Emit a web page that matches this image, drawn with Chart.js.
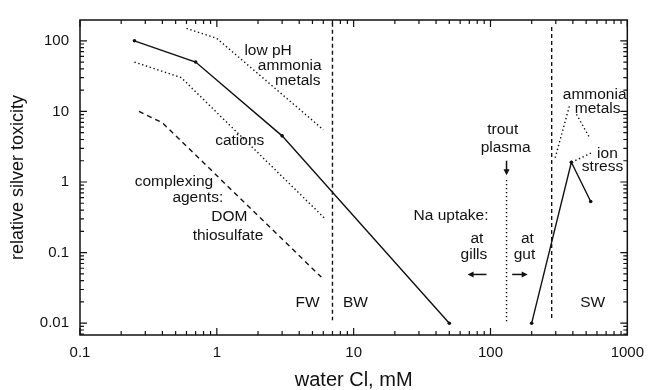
<!DOCTYPE html>
<html><head><meta charset="utf-8">
<script src="https://cdn.jsdelivr.net/npm/chart.js@4/dist/chart.umd.min.js"></script>
<style>html,body{margin:0;padding:0;background:#fff}#wrap{width:653px;height:390px}</style>
</head><body><div id="wrap"><canvas id="c" width="653" height="390"></canvas></div>
<script>
const FONT = '"Liberation Sans", Arial, Helvetica, sans-serif';
const xTitle = 'water Cl, mM';
const yTitle = 'relative silver toxicity';
const xTickValues = [0.1, 1, 10, 100, 1000];
const xTickLabels = ['0.1', '1', '10', '100', '1000'];
const yTickValues = [0.01, 0.1, 1, 10, 100];
const yTickLabels = ['0.01', '0.1', '1', '10', '100'];

// solid toxicity curves
const fwX = [0.25, 0.7, 3, 50];
const fwY = [100, 50, 4.5, 0.01];
const swX = [200, 390, 540];
const swY = [0.01, 1.9, 0.53];
// modifier curves
const lowPhX = [0.6, 1.0, 6];
const lowPhY = [150, 108, 5.5];
const cationsX = [0.25, 0.55, 6.1];
const cationsY = [50, 30, 0.31];
const complexX = [0.27, 0.4, 5.8];
const complexY = [10, 6.9, 0.045];
// boundaries
const fwBwX = [7, 7];
const fwBwY = [180, 0.011];
const plasmaX = [131, 131];
const plasmaY = [1.07, 0.01];
const swBoundX = [280, 280];
const swBoundY = [157, 0.011];
// sea water modifier connectors
const swAmmoniaX = [297, 380];
const swAmmoniaY = [2.2, 12.5];
const swMetalsX = [425, 531];
const swMetalsY = [9.1, 4.2];
const ionX = [392, 550];
const ionY = [1.9, 2.6];

// annotation texts (centres in data coordinates)
const labelTexts = ['low pH', 'ammonia', 'metals', 'cations', 'complexing', 'agents:', 'DOM', 'thiosulfate',
  'FW', 'BW', 'SW', 'Na uptake:', 'at', 'gills', 'at', 'gut', 'trout', 'plasma', 'ammonia', 'metals', 'ion', 'stress'];
const labelX = [2.37, 3.41, 3.90, 1.47, 0.486, 0.726, 1.236, 1.206,
  4.61, 10.3, 558, 51.5, 79.6, 75.7, 186, 177, 123, 129, 577, 607, 716, 659];
const labelY = [72.4, 44.7, 27.6, 3.86, 1.0, 0.597, 0.324, 0.176,
  0.0197, 0.0197, 0.0197, 0.334, 0.155, 0.0923, 0.155, 0.0923, 5.5, 3.09, 17.0, 10.8, 2.55, 1.67];

// arrows (from -> to, data coordinates)
const arrowFromX = [93.5, 144, 131];
const arrowFromY = [0.049, 0.049, 2.0];
const arrowToX = [68, 187, 131];
const arrowToY = [0.049, 0.049, 1.25];

const pts = (xs, ys) => xs.map((x, i) => ({x: x, y: ys[i]}));
const ink = '#111';

function ds(xs, ys, dash, withPts) {
  return {
    data: pts(xs, ys), showLine: true, borderColor: ink, backgroundColor: ink,
    borderWidth: 1.4, borderDash: dash || [], pointRadius: withPts ? 1.8 : 0,
    pointBorderWidth: 0, pointBackgroundColor: ink, tension: 0
  };
}

const dotted = [1.4, 2.6];
const datasets = [
  ds(fwX, fwY, [], true),
  ds(swX, swY, [], true),
  ds(lowPhX, lowPhY, dotted),
  ds(cationsX, cationsY, dotted),
  ds(complexX, complexY, [5, 4]),
  ds(fwBwX, fwBwY, [4, 3]),
  ds(plasmaX, plasmaY, dotted),
  ds(swBoundX, swBoundY, [4, 3]),
  ds(swAmmoniaX, swAmmoniaY, dotted),
  ds(swMetalsX, swMetalsY, dotted),
  ds(ionX, ionY, dotted)
];

function tickLabel(values, labels) {
  return function (v) {
    for (let i = 0; i < values.length; i++) {
      if (Math.abs(v - values[i]) / values[i] < 1e-6) return labels[i];
    }
    return '';
  };
}

function minorValues(min, max) {
  const out = [];
  for (let e = Math.floor(Math.log10(min)); e <= Math.ceil(Math.log10(max)); e++) {
    for (let k = 1; k <= 9; k++) {
      const v = k * Math.pow(10, e);
      if (v >= min * 0.9999 && v <= max * 1.0001) out.push({v: v, major: k === 1});
    }
  }
  return out;
}

const framePlugin = {
  id: 'frame',
  afterDraw(chart) {
    const {ctx, chartArea: a, scales: {x, y}} = chart;
    ctx.save();
    ctx.strokeStyle = ink;
    ctx.lineWidth = 1.5;
    ctx.strokeRect(a.left, a.top, a.right - a.left, a.bottom - a.top);
    ctx.lineWidth = 1.2;
    ctx.beginPath();
    minorValues(x.min, x.max).forEach(t => {
      const px = x.getPixelForValue(t.v);
      const L = t.major ? 7 : 4;
      ctx.moveTo(px, a.bottom); ctx.lineTo(px, a.bottom - L);
      ctx.moveTo(px, a.top); ctx.lineTo(px, a.top + L);
    });
    minorValues(y.min, y.max).forEach(t => {
      const py = y.getPixelForValue(t.v);
      const L = t.major ? 7 : 4;
      ctx.moveTo(a.left, py); ctx.lineTo(a.left + L, py);
      ctx.moveTo(a.right, py); ctx.lineTo(a.right - L, py);
    });
    ctx.stroke();

    // arrows
    ctx.fillStyle = ink;
    ctx.lineWidth = 1.5;
    for (let i = 0; i < arrowFromX.length; i++) {
      const x0 = x.getPixelForValue(arrowFromX[i]), y0 = y.getPixelForValue(arrowFromY[i]);
      const x1 = x.getPixelForValue(arrowToX[i]), y1 = y.getPixelForValue(arrowToY[i]);
      const ang = Math.atan2(y1 - y0, x1 - x0);
      const hl = 6, hw = 3;
      ctx.beginPath();
      ctx.moveTo(x0, y0);
      ctx.lineTo(x1 - Math.cos(ang) * hl * 0.8, y1 - Math.sin(ang) * hl * 0.8);
      ctx.stroke();
      ctx.beginPath();
      ctx.moveTo(x1, y1);
      ctx.lineTo(x1 - Math.cos(ang) * hl - Math.sin(ang) * hw, y1 - Math.sin(ang) * hl + Math.cos(ang) * hw);
      ctx.lineTo(x1 - Math.cos(ang) * hl + Math.sin(ang) * hw, y1 - Math.sin(ang) * hl - Math.cos(ang) * hw);
      ctx.closePath();
      ctx.fill();
    }

    // annotation texts
    ctx.font = '15.5px ' + FONT;
    ctx.textAlign = 'center';
    ctx.textBaseline = 'middle';
    ctx.fillStyle = ink;
    for (let i = 0; i < labelTexts.length; i++) {
      ctx.fillText(labelTexts[i], x.getPixelForValue(labelX[i]), y.getPixelForValue(labelY[i]));
    }
    ctx.restore();
  }
};

new Chart(document.getElementById('c'), {
  type: 'scatter',
  data: {datasets: datasets},
  options: {
    responsive: false,
    animation: false,
    events: [],
    layout: {padding: {top: 16, right: 20, left: 0, bottom: 0}},
    plugins: {legend: {display: false}, tooltip: {enabled: false}},
    scales: {
      x: {
        type: 'logarithmic', position: 'bottom', min: 0.1, max: 1000,
        grid: {display: false, drawTicks: false}, border: {display: false},
        ticks: {autoSkip: false, maxRotation: 0, padding: 9, color: ink,
          font: {size: 15, family: FONT}, callback: tickLabel(xTickValues, xTickLabels)},
        title: {display: true, text: xTitle, color: ink, font: {size: 20, family: FONT, lineHeight: 1}, padding: 0},
        afterFit: s => { s.height = 55; }
      },
      y: {
        type: 'logarithmic', position: 'left', min: 0.0068, max: 197,
        grid: {display: false, drawTicks: false}, border: {display: false},
        ticks: {autoSkip: false, padding: 11, color: ink,
          font: {size: 15, family: FONT}, callback: tickLabel(yTickValues, yTickLabels)},
        title: {display: true, text: yTitle, color: ink, font: {size: 18, family: FONT, lineHeight: 1}, padding: {top: 9, bottom: 0}},
        afterFit: s => { s.width = 80; }
      }
    }
  },
  plugins: [framePlugin]
});
</script>
</body></html>
